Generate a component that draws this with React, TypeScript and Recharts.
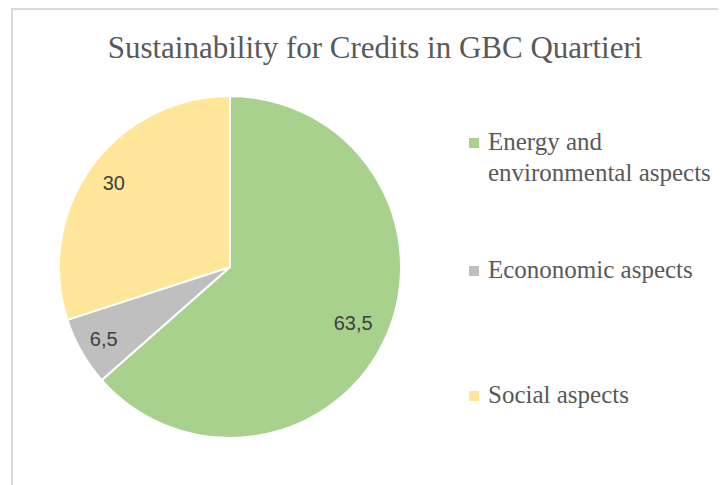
import { PieChart, Pie, Cell, Customized } from 'recharts';

const categories = ['Energy and environmental aspects', 'Econonomic aspects', 'Social aspects'];
const legendLines = [['Energy and', 'environmental aspects'], ['Econonomic aspects'], ['Social aspects']];
const values = [63.5, 6.5, 30];
const colors = ['#a9d18e', '#bfbfbf', '#ffe699'];
const title = 'Sustainability for Credits in GBC Quartieri';

const data = categories.map((name, i) => ({ name, value: values[i] }));

// Excel "best fit" puts labels at slightly different depths
const labelRadius = [0.79, 0.85, 0.84];
const legendBaselines = [142, 270, 395];

const RAD = Math.PI / 180;
const fmt = (v: number) => String(v).replace('.', ',');

function renderLabel(props: any) {
  const { cx, cy, midAngle, outerRadius, index, value } = props;
  const r = outerRadius * labelRadius[index];
  const x = cx + r * Math.cos(-midAngle * RAD);
  const y = cy + r * Math.sin(-midAngle * RAD);
  return (
    <text
      x={x}
      y={y}
      textAnchor="middle"
      dominantBaseline="central"
      fill="#404040"
      fontSize={20}
      fontFamily="'Liberation Sans', Arial, sans-serif"
    >
      {fmt(value)}
    </text>
  );
}

function TitleAndLegend() {
  return (
    <g fontFamily="'Liberation Serif', 'DejaVu Serif', serif" fill="#595959">
      <text x={367} y={50} textAnchor="middle" fontSize={31}>
        {title}
      </text>
      {legendLines.map((lines, i) => (
        <g key={i}>
          <rect x={461} y={legendBaselines[i] - 12} width={10} height={10} fill={colors[i]} />
          {lines.map((line, j) => (
            <text key={j} x={480} y={legendBaselines[i] + j * 31} fontSize={25}>
              {line}
            </text>
          ))}
        </g>
      ))}
    </g>
  );
}

export default function App() {
  return (
    <div style={{ position: 'relative', width: 718, height: 477, background: '#fff' }}>
      <div
        style={{
          position: 'absolute',
          left: 3,
          top: 0,
          right: -10,
          bottom: -10,
          borderLeft: '2px solid #d9d9d9',
          borderTop: '2px solid #d9d9d9',
        }}
      />
      <PieChart width={718} height={477} style={{ position: 'absolute', left: 0, top: 0 }}>
        <Pie
          data={data}
          dataKey="value"
          nameKey="name"
          cx={217}
          cy={254}
          outerRadius={171}
          startAngle={90}
          endAngle={-270}
          stroke="#ffffff"
          strokeWidth={2}
          label={renderLabel}
          labelLine={false}
          isAnimationActive={false}
        >
          {data.map((d, i) => (
            <Cell key={d.name} fill={colors[i]} />
          ))}
        </Pie>
        <Customized component={TitleAndLegend} />
      </PieChart>
    </div>
  );
}
